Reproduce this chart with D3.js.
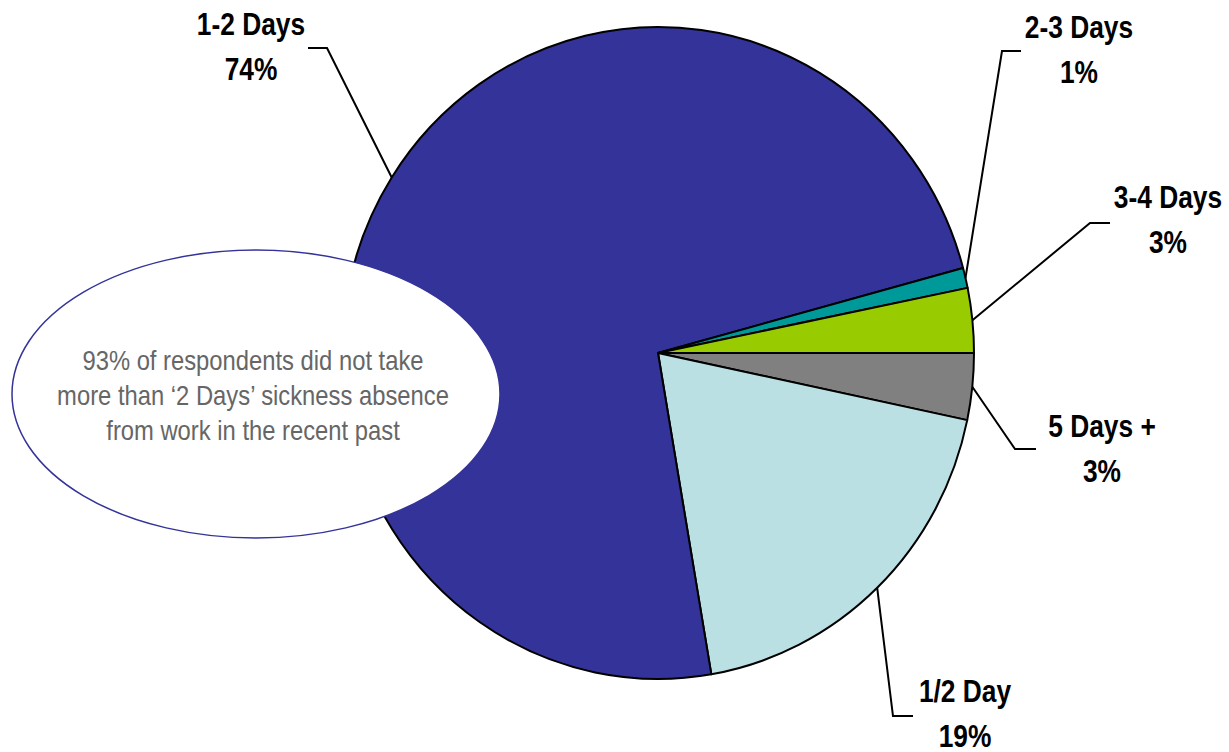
<!DOCTYPE html>
<html>
<head>
<meta charset="utf-8">
<script src="https://cdn.jsdelivr.net/npm/d3@7"></script>
<style>
  html, body { margin: 0; padding: 0; background: #fff; }
  svg { display: block; }
  .lbl { font-family: 'Liberation Sans', Arial, sans-serif; font-weight: bold; fill: #000; }
  .note { font-family: 'Liberation Sans', Arial, sans-serif; fill: #666; }
</style>
</head>
<body>
<div id="chart"></div>
<script>
// slices, clockwise from 3 o'clock
const categories = ['5 Days +', '1/2 Day', '1-2 Days', '2-3 Days', '3-4 Days'];
const values = [3.3, 19.0, 73.5, 1.0, 3.2];
const colors = ['#808080', '#bbe0e3', '#333399', '#009999', '#99cc00'];
const noteLines = [
  '93% of respondents did not take',
  'more than \u20182 Days\u2019 sickness absence',
  'from work in the recent past'
];

// label placement (text centre + first baseline, leader elbow, leader end)
const labelLayout = {
  '5 Days +': {tx: 1102, ty: 437, ex: 1015, ey: 449, endX: 1036},
  '1/2 Day':  {tx: 965,  ty: 702, ex: 893,  ey: 716, endX: 913},
  '1-2 Days': {tx: 251,  ty: 35,  ex: 327,  ey: 48,  endX: 308},
  '2-3 Days': {tx: 1079, ty: 38,  ex: 1002, ey: 51,  endX: 1021},
  '3-4 Days': {tx: 1168, ty: 208, ex: 1090, ey: 223, endX: 1110}
};

const width = 1229, height = 752;
const cx = 658, cy = 353, rx = 316, ry = 326;
const narrow = 0.85; // horizontal squeeze to mimic a narrow face

const svg = d3.select('#chart').append('svg')
  .attr('width', width)
  .attr('height', height);

const data = categories.map((c, i) => ({name: c, value: values[i], color: colors[i]}));

const pie = d3.pie()
  .sort(null)
  .value(d => d.value)
  .startAngle(Math.PI / 2)
  .endAngle(Math.PI / 2 + 2 * Math.PI);

const arcs = pie(data);
const arc = d3.arc().innerRadius(0).outerRadius(ry);

// the original pie is slightly taller than wide
const pieG = svg.append('g')
  .attr('transform', `translate(${cx},${cy}) scale(${rx / ry},1)`);

pieG.selectAll('path')
  .data(arcs)
  .enter().append('path')
  .attr('d', arc)
  .attr('fill', d => d.data.color)
  .attr('stroke', '#000')
  .attr('stroke-width', 2)
  .attr('stroke-linejoin', 'round')
  .attr('vector-effect', 'non-scaling-stroke');

// leader lines from slice mid-angle on the rim
const edgePoint = d => {
  const a = (d.startAngle + d.endAngle) / 2;
  return [cx + rx * Math.sin(a), cy - ry * Math.cos(a)];
};

const line = d3.line();

svg.selectAll('path.leader')
  .data(arcs)
  .enter().append('path')
  .attr('class', 'leader')
  .attr('fill', 'none')
  .attr('stroke', '#000')
  .attr('stroke-width', 2)
  .attr('d', d => {
    const L = labelLayout[d.data.name];
    return line([edgePoint(d), [L.ex, L.ey], [L.endX, L.ey]]);
  });

const labels = svg.selectAll('text.lbl')
  .data(arcs)
  .enter().append('text')
  .attr('class', 'lbl')
  .attr('text-anchor', 'middle')
  .attr('font-size', 31)
  .attr('transform', d => {
    const L = labelLayout[d.data.name];
    return `translate(${L.tx},${L.ty}) scale(${narrow},1)`;
  });

labels.append('tspan')
  .attr('x', 0)
  .attr('y', 0)
  .text(d => d.data.name);

labels.append('tspan')
  .attr('x', 0)
  .attr('y', 45)
  .text(d => Math.round(d.data.value) + '%');

// callout ellipse
svg.append('ellipse')
  .attr('cx', 256)
  .attr('cy', 394)
  .attr('rx', 244)
  .attr('ry', 144)
  .attr('fill', '#fff')
  .attr('stroke', '#333399')
  .attr('stroke-width', 1.5);

svg.append('text')
  .attr('class', 'note')
  .attr('text-anchor', 'middle')
  .attr('font-size', 28)
  .attr('transform', `translate(253,370) scale(${narrow},1)`)
  .selectAll('tspan')
  .data(noteLines)
  .enter().append('tspan')
  .attr('x', 0)
  .attr('y', (d, i) => i * 35)
  .text(d => d);
</script>
</body>
</html>
